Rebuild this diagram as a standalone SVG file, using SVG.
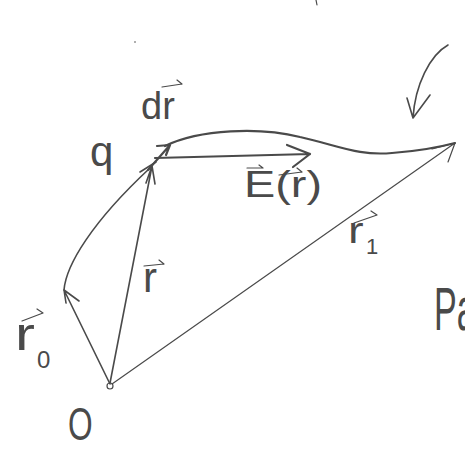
<svg xmlns="http://www.w3.org/2000/svg" width="465" height="450" viewBox="0 0 465 450">
<style>
.s{fill:none;stroke:#4a4a4a;stroke-linecap:round;stroke-linejoin:round}
.w{stroke-width:2.2}
.m{stroke-width:1.6}
.t{stroke-width:1.2}
.l{font-family:"Liberation Sans",Arial,sans-serif;fill:#4a4a4a}
</style>
<rect width="465" height="450" fill="#ffffff"/>
<g id="connectors">
  <path id="r0" class="s m" d="M110,384 L64,290 M64,290 L66,303 M64,290 L79,301"/>
  <path id="path-lower" class="s m" d="M64,290 C66,265 92,222 150,168"/>
  <path id="r" class="s m" d="M110,383 L152,166 M152,166 L146,183 M152,166 L155,184 M140,172 L156,162"/>
  <path id="dr" class="s w" d="M148,170 L170,145 M170,145 L157,146 M170,145 L166,155"/>
  <path id="path-upper" class="s w" d="M165,146 C200,129 260,127 300,137 C340,146 358,156 392,153 C420,151 440,147 455,143"/>
  <path id="E" class="s w" d="M155,158 L310,154 M310,154 L287,145 M310,154 L293,167"/>
  <path id="r1" class="s t" d="M112,384 L455,143 M455,143 L432,149 M455,143 L448,162"/>
  <path id="curved-arrow" class="s m" d="M448,45 C430,55 415,85 413,118 M413,118 L407,98 M413,118 L430,95"/>
  <path class="s t" d="M316,0 L317,5"/>
</g>
<g id="node-O">
  <circle cx="110" cy="386" r="3" class="s t"/>
  <text class="l" x="0" y="0" font-size="44" transform="translate(68,440) scale(0.72,1.05)">O</text>
</g>
<g id="label-q">
  <text class="l" x="90" y="166" font-size="42">q</text>
</g>
<g id="label-dr">
  <text class="l" x="141" y="119" font-size="38">dr</text>
  <path class="s t" d="M162,87 L182,84 M182,84 L177,80"/>
</g>
<g id="label-E">
  <text class="l" x="244" y="197" font-size="36" textLength="78" lengthAdjust="spacingAndGlyphs">E(r)</text>
  <path class="s t" d="M247,168 L263,168 M263,168 L259,165"/>
  <path class="s t" d="M279,175 L302,172 M302,172 L297,168"/>
</g>
<g id="label-r">
  <text class="l" x="143" y="292" font-size="42">r</text>
  <path class="s t" d="M144,266 L164,264 M164,264 L159,260"/>
</g>
<g id="label-r0">
  <text class="l" x="0" y="0" font-size="46" transform="translate(15,350) scale(1.3,1)">r</text>
  <text class="l" x="37" y="368" font-size="24">0</text>
  <path class="s t" d="M22,321 L43,313 M43,313 L37,309"/>
</g>
<g id="label-r1">
  <text class="l" x="0" y="0" font-size="36" transform="translate(348,243) scale(1.3,1)">r</text>
  <text class="l" x="366" y="254" font-size="22">1</text>
  <path class="s t" d="M354,223 L377,215 M377,215 L371,211"/>
</g>
<g id="label-P">
  <text class="l" x="0" y="0" font-size="62" transform="translate(434,330) scale(0.55,1)">Pa</text>
</g>
<circle cx="135" cy="42" r="0.8" fill="#4a4a4a"/>
</svg>
